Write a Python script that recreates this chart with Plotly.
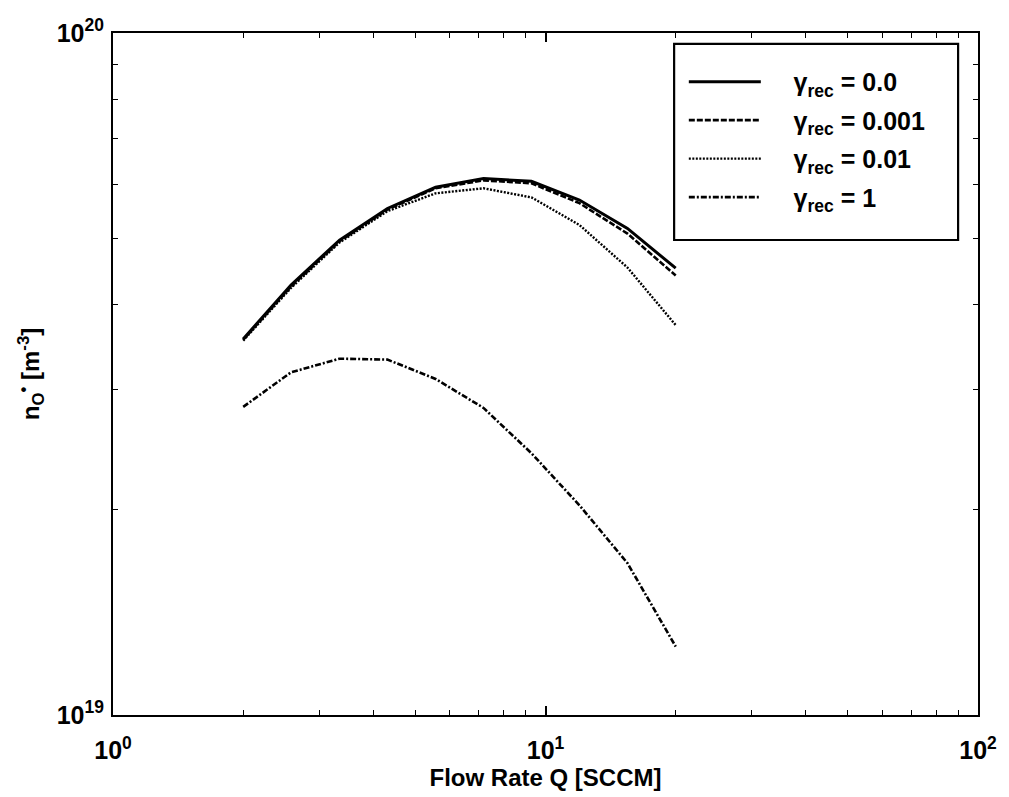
import plotly.graph_objects as go

# Flow rate Q [SCCM]
flow_q = [2.0, 2.58, 3.34, 4.31, 5.57, 7.19, 9.28, 11.98, 15.47, 20.0]

# Atomic oxygen density n_O [m^-3] for each recombination coefficient
n_rec_0 = [3.56e19, 4.27e19, 4.97e19, 5.53e19, 5.94e19, 6.12e19, 6.06e19, 5.69e19, 5.17e19, 4.52e19]
n_rec_0001 = [3.55e19, 4.25e19, 4.95e19, 5.51e19, 5.92e19, 6.08e19, 6.02e19, 5.63e19, 5.08e19, 4.41e19]
n_rec_001 = [3.54e19, 4.23e19, 4.93e19, 5.48e19, 5.82e19, 5.92e19, 5.74e19, 5.23e19, 4.53e19, 3.73e19]
n_rec_1 = [2.83e19, 3.18e19, 3.33e19, 3.32e19, 3.11e19, 2.82e19, 2.42e19, 2.03e19, 1.67e19, 1.26e19]

series_labels = ["0.0", "0.001", "0.01", "1"]
x_tick_vals = [1, 10, 100]
x_tick_text = ["10<sup>0</sup>", "10<sup>1</sup>", "10<sup>2</sup>"]
y_tick_vals = [1e19, 1e20]
y_tick_text = ["10<sup>19</sup>", "10<sup>20</sup>"]

x_minor = [float(m) * 10.0 ** e for e in range(0, 2) for m in range(2, 10)]
y_minor = [float(m) * 1e19 for m in range(2, 10)]

styles = [
    dict(dash="solid", width=3),
    dict(dash="6px,2px", width=2.6),
    dict(dash="2px,1.5px", width=2.4),
    dict(dash="6px,2px,2px,2px", width=2.6),
]

FAM = "Liberation Sans, Arial, Helvetica, sans-serif"

fig = go.Figure()
for i, (ys, lab, st) in enumerate(zip([n_rec_0, n_rec_0001, n_rec_001, n_rec_1], series_labels, styles)):
    fig.add_trace(go.Scatter(
        x=flow_q, y=ys, mode="lines",
        line=dict(color="black", width=st["width"], dash=st["dash"]),
        name="&nbsp;&nbsp;&nbsp;&nbsp;γ<sub>rec</sub> = " + lab + "&nbsp;&nbsp;",
        legendgroup="g%d" % i,
    ))

axis_common = dict(
    showline=True, linecolor="black", linewidth=2, mirror="allticks",
    ticks="inside", ticklen=9, tickwidth=1.5, tickcolor="black",
    showgrid=False, zeroline=False,
    tickfont=dict(family=FAM, size=25, color="black", weight="bold"),
)

# legend frame (decoration around the legend entries)
fig.add_shape(type="rect", xref="paper", yref="paper",
              x0=0.6487, x1=0.977, y0=0.6965, y1=0.984,
              line=dict(color="black", width=2.2), fillcolor="rgba(0,0,0,0)", layer="above")

fig.update_layout(
    width=1009, height=797,
    margin=dict(l=113, r=25, t=33, b=82),
    paper_bgcolor="white", plot_bgcolor="white",
    font=dict(family=FAM, size=24, color="black", weight="bold"),
    showlegend=True,
    legend=dict(
        x=0.6495, y=0.962, xanchor="left", yanchor="top",
        borderwidth=0, bgcolor="rgba(0,0,0,0)",
        itemwidth=72, indentation=9,
        font=dict(size=25, family=FAM, color="black", weight="bold"),
        tracegroupgap=3,
    ),
    xaxis=dict(
        type="log", range=[0, 2], tickmode="array", tickvals=x_tick_vals, ticktext=x_tick_text,
        ticklabelstandoff=12,
        title=dict(text="Flow Rate Q [SCCM]", standoff=3,
                   font=dict(family=FAM, size=24, color="black", weight="bold")),
        minor=dict(ticks="inside", ticklen=5, tickwidth=1.2, tickcolor="black", tickmode="array", tickvals=x_minor),
        **axis_common,
    ),
    yaxis=dict(
        type="log", range=[19, 20], tickmode="array", tickvals=y_tick_vals, ticktext=y_tick_text,
        ticklabelstandoff=2,
        title=dict(text="n<sub>O</sub><sup>•</sup> [m<sup>-3</sup>]", standoff=10,
                   font=dict(family=FAM, size=24, color="black", weight="bold")),
        minor=dict(ticks="inside", ticklen=5, tickwidth=1.2, tickcolor="black", tickmode="array", tickvals=y_minor),
        **axis_common,
    ),
)

fig.write_html("out.html")
